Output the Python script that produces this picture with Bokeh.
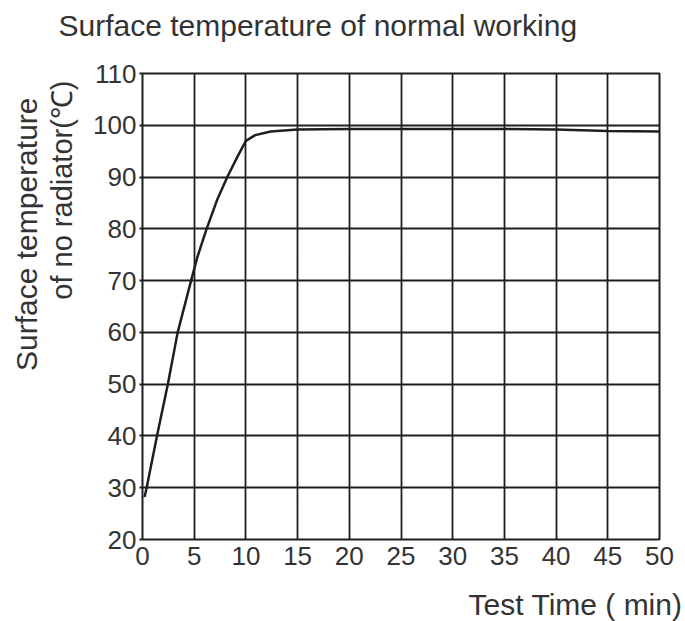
from bokeh.plotting import figure
from bokeh.models import Title, FixedTicker, Range1d
from bokeh.embed import file_html
from bokeh.resources import INLINE

# Data
time_min = [0.2, 0.4, 1.4, 2.45, 3.4, 4.7, 5.3, 6.2, 7.2, 8.2, 9.2, 10.0, 10.9, 12.4,
            15, 20, 25, 30, 35, 40, 45, 50]
temp_c = [28.2, 30, 40, 50, 60, 70, 74.5, 80, 85.5, 90, 94, 97, 98.1, 98.8,
          99.2, 99.3, 99.3, 99.3, 99.3, 99.2, 98.9, 98.8]
x_ticks = [0, 5, 10, 15, 20, 25, 30, 35, 40, 45, 50]
y_ticks = [20, 30, 40, 50, 60, 70, 80, 90, 100, 110]

title_text = "Surface temperature of normal working"
y_label_1 = "Surface temperature"
y_label_2 = "of no radiator(\u2103)"
x_label = "Test Time ( min)"

FONT = "Liberation Sans"
TXT = "#333333"
LINE = "#1e1e1e"

p = figure(width=685, height=621, output_backend="svg", toolbar_location=None,
           x_range=Range1d(0, 50), y_range=Range1d(20, 110),
           min_border_left=142, min_border_right=26, min_border_top=73, min_border_bottom=82)
p.frame_width = 517
p.frame_height = 466

p.line(time_min, temp_c, line_color=LINE, line_width=2.5)

p.outline_line_color = LINE
p.outline_line_width = 2
p.outline_line_alpha = 1

for g in (p.xgrid[0], p.ygrid[0]):
    g.grid_line_color = LINE
    g.grid_line_width = 1.8
    g.grid_line_alpha = 1

p.xaxis.ticker = FixedTicker(ticks=x_ticks)
p.yaxis.ticker = FixedTicker(ticks=y_ticks)
p.xgrid[0].ticker = FixedTicker(ticks=x_ticks)
p.ygrid[0].ticker = FixedTicker(ticks=y_ticks)

for ax in (p.xaxis[0], p.yaxis[0]):
    ax.axis_line_color = None
    ax.minor_tick_line_color = None
    ax.major_tick_in = 0
    ax.major_label_text_font = FONT
    ax.major_label_text_font_size = "26px"
    ax.major_label_text_color = TXT
    ax.major_tick_line_color = LINE
    ax.major_tick_line_width = 1.8

p.xaxis[0].major_tick_out = 0
p.xaxis[0].major_label_standoff = 7
p.yaxis[0].major_tick_out = 3
p.yaxis[0].major_label_standoff = 3

p.title.text = ""

def side_title(text, loc, size, align="left", offset=0, standoff=0):
    t = Title(text=text, align=align, offset=offset, standoff=standoff,
              text_font=FONT, text_font_size=size, text_font_style="normal",
              text_color=TXT)
    p.add_layout(t, loc)

def spacer(loc, gap):
    p.add_layout(Title(text=" ", text_font_size="1px", standoff=gap), loc)

# main title: spacer next to the frame, then the title itself
spacer("above", 29)
side_title(title_text, "above", "30px", align="left", offset=-84, standoff=0)

# y label: spacer, inner line, outer line (anchored at their top ends)
spacer("left", 10)
side_title(y_label_2, "left", "29px", align="right", offset=7, standoff=0)
side_title(y_label_1, "left", "30px", align="right", offset=24, standoff=1)

# x label below the tick labels, right end past the frame
spacer("below", 15)
side_title(x_label, "below", "30px", align="right", offset=-23, standoff=0)

open("out.html", "w").write(file_html(p, INLINE))
